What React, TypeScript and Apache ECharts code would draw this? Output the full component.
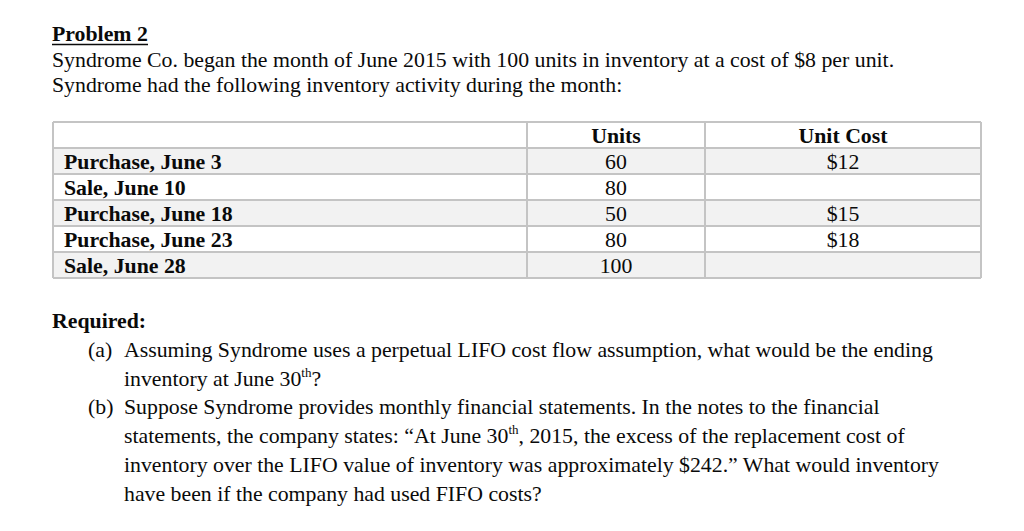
import React, { useEffect, useRef } from "react";
import * as echarts from "echarts";

const titleText = "Problem 2";
const introLines = [
  "Syndrome Co. began the month of June 2015 with 100 units in inventory at a cost of $8 per unit.",
  "Syndrome had the following inventory activity during the month:",
];
const headers = ["", "Units", "Unit Cost"];
const rowLabels = ["Purchase, June 3", "Sale, June 10", "Purchase, June 18", "Purchase, June 23", "Sale, June 28"];
const units = ["60", "80", "50", "80", "100"];
const unitCosts = ["$12", "", "$15", "$18", ""];
const requiredLabel = "Required:";
// each line: [marker, rich text]
const requiredLines: [string, string][] = [
  ["(a)", "{n|Assuming Syndrome uses a perpetual LIFO cost flow assumption, what would be the ending}"],
  ["", "{n|inventory at June 30}{s|th}{n|?}"],
  ["(b)", "{n|Suppose Syndrome provides monthly financial statements. In the notes to the financial}"],
  ["", "{n|statements, the company states: \u201CAt June 30}{s|th}{n|, 2015, the excess of the replacement cost of}"],
  ["", "{n|inventory over the LIFO value of inventory was approximately $242.\u201D What would inventory}"],
  ["", "{n|have been if the company had used FIFO costs?}"],
];

const FONT = "'Liberation Serif', 'Times New Roman', serif";
const FS = 21.8;
const INK = "#0a0a0a";

export default function App() {
  const ref = useRef<HTMLDivElement>(null);
  useEffect(() => {
    document.body.style.margin = "0";
    const chart = echarts.init(ref.current!, null, { renderer: "svg" });

    const els: any[] = [];
    const txt = (x: number, y: number, text: string, extra: any = {}) =>
      els.push({
        type: "text",
        x,
        y,
        style: {
          text,
          fontFamily: FONT,
          fontSize: FS,
          fill: INK,
          textVerticalAlign: "middle",
          ...extra,
        },
      });

    // title
    txt(52, 34, titleText, { fontWeight: "bold" });
    els.push({ type: "line", shape: { x1: 52, y1: 44.5, x2: 148, y2: 44.5 }, style: { stroke: INK, lineWidth: 1.5 } });
    introLines.forEach((l, i) => txt(52, 60 + i * 25, l));

    // table
    const colX = [53, 527, 705, 981];
    const rowY = [122, 148, 174, 200, 226, 252, 278];
    const border = "#c4c4c4";
    for (let r = 0; r < rowY.length - 1; r++) {
      els.push({
        type: "rect",
        shape: { x: colX[0], y: rowY[r], width: colX[3] - colX[0], height: rowY[r + 1] - rowY[r] },
        style: { fill: r % 2 === 1 ? "#f2f2f2" : "#ffffff" },
      });
    }
    rowY.forEach((y) =>
      els.push({ type: "line", shape: { x1: colX[0], y1: y, x2: colX[3], y2: y }, style: { stroke: border, lineWidth: 2 } })
    );
    colX.forEach((x) =>
      els.push({ type: "line", shape: { x1: x, y1: rowY[0], x2: x, y2: rowY[rowY.length - 1] }, style: { stroke: border, lineWidth: 2 } })
    );
    const cy = (r: number) => (rowY[r] + rowY[r + 1]) / 2 + 0.5;
    headers.forEach((h, c) => {
      if (h) txt((colX[c] + colX[c + 1]) / 2, cy(0), h, { fontWeight: "bold", textAlign: "center" });
    });
    rowLabels.forEach((l, i) => {
      txt(64, cy(i + 1), l, { fontWeight: "bold" });
      txt((colX[1] + colX[2]) / 2, cy(i + 1), units[i], { textAlign: "center" });
      if (unitCosts[i]) txt((colX[2] + colX[3]) / 2, cy(i + 1), unitCosts[i], { textAlign: "center" });
    });

    // required
    txt(52, 321, requiredLabel, { fontWeight: "bold" });
    requiredLines.forEach(([m, t], i) => {
      const y = 350 + i * 28.7;
      if (m) txt(88, y, m);
      els.push({
        type: "text",
        x: 124,
        y,
        style: {
          text: t,
          fontFamily: FONT,
          fontSize: FS,
          fill: INK,
          textVerticalAlign: "middle",
          rich: {
            n: { fontFamily: FONT, fontSize: FS, fill: INK, lineHeight: 26 },
            s: { fontFamily: FONT, fontSize: 13, fill: INK, lineHeight: 26, verticalAlign: "top", padding: [0, 0, 13, 0] },
          },
        },
      });
    });

    chart.setOption({
      animation: false,
      backgroundColor: "#ffffff",
      graphic: { elements: els },
    });
    return () => chart.dispose();
  }, []);
  return <div ref={ref} style={{ width: 1024, height: 531 }} />;
}
